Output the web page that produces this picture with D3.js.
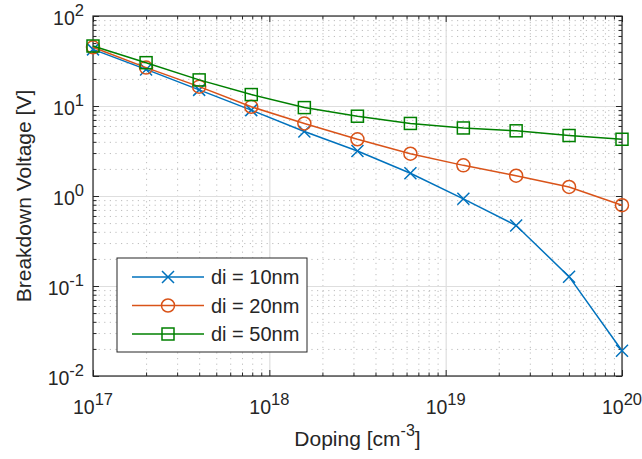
<!DOCTYPE html>
<html>
<head>
<meta charset="utf-8">
<script src="https://cdn.jsdelivr.net/npm/d3@7"></script>
<style>
    body { margin: 0; background: #fff; }
    svg text { font-family: "Liberation Sans", Arial, sans-serif; fill: #262626; }
</style>
</head>
<body>
<svg width="642" height="459"></svg>
<script>
// values
var doping = [1e17, 2e17, 4e17, 7.9e17, 1.58e18, 3.16e18, 6.31e18, 1.26e19, 2.51e19, 5.01e19, 1e20];
var vb10 = [42.6, 25.5, 15.1, 9.0, 5.2, 3.16, 1.79, 0.93, 0.47, 0.127, 0.0191];
var vb20 = [44.9, 26.7, 16.4, 9.8, 6.4, 4.27, 2.95, 2.19, 1.68, 1.26, 0.79];
var vb50 = [46.4, 30.3, 19.5, 13.4, 9.6, 7.7, 6.4, 5.7, 5.3, 4.7, 4.27];
var seriesNames = ["di = 10nm", "di = 20nm", "di = 50nm"];
var xTickExps = [17, 18, 19, 20];
var yTickExps = [-2, -1, 0, 1, 2];

function drawChart() {
    var colors = ["#0072bd", "#d95319", "#008000"];
    var markers = ["x", "o", "s"];

    var pl = 93, pr = 622, pt = 16, pb = 376;
    var svg = d3.select("svg");

    var x = d3.scaleLog().domain([1e17, 1e20]).range([pl, pr]);
    var y = d3.scaleLog().domain([1e-2, 1e2]).range([pb, pt]);

    function minorTicks(exps) {
        var out = [];
        for (var i = 0; i < exps.length - 1; i++) {
            for (var m = 2; m <= 9; m++) out.push(m * Math.pow(10, exps[i]));
        }
        return out;
    }
    var xMajor = xTickExps.map(function (e) { return Math.pow(10, e); });
    var yMajor = yTickExps.map(function (e) { return Math.pow(10, e); });
    var xMinor = minorTicks(xTickExps);
    var yMinor = minorTicks(yTickExps);

    // plain tick lines from a d3 axis, no domain path or text
    function axisLines(axis, tr, stroke, width, dash) {
        var g = svg.append("g").attr("transform", tr).call(axis.tickFormat(""));
        g.select(".domain").remove();
        g.selectAll("text").remove();
        g.selectAll("line")
            .attr("stroke", stroke)
            .attr("stroke-width", width)
            .attr("stroke-dasharray", dash || null);
    }

    // grid
    axisLines(d3.axisBottom(x).tickValues(xMinor).tickSize(-(pb - pt)), "translate(0," + pb + ")", "#bdbdbd", 1, "1.2,4.4");
    axisLines(d3.axisLeft(y).tickValues(yMinor).tickSize(-(pr - pl)), "translate(" + pl + ",0)", "#bdbdbd", 1, "1.2,4.4");
    axisLines(d3.axisBottom(x).tickValues(xMajor).tickSize(-(pb - pt)), "translate(0," + pb + ")", "#dedede", 1.2);
    axisLines(d3.axisLeft(y).tickValues(yMajor).tickSize(-(pr - pl)), "translate(" + pl + ",0)", "#dedede", 1.2);

    // inward ticks on all four sides
    [[d3.axisBottom, pb], [d3.axisTop, pt]].forEach(function (s) {
        axisLines(s[0](x).tickValues(xMajor).tickSize(-6), "translate(0," + s[1] + ")", "#262626", 1);
        axisLines(s[0](x).tickValues(xMinor).tickSize(-3.5), "translate(0," + s[1] + ")", "#262626", 1);
    });
    [[d3.axisLeft, pl], [d3.axisRight, pr]].forEach(function (s) {
        axisLines(s[0](y).tickValues(yMajor).tickSize(-6), "translate(" + s[1] + ",0)", "#262626", 1);
        axisLines(s[0](y).tickValues(yMinor).tickSize(-3.5), "translate(" + s[1] + ",0)", "#262626", 1);
    });
    svg.append("rect")
        .attr("x", pl).attr("y", pt)
        .attr("width", pr - pl).attr("height", pb - pt)
        .attr("fill", "none").attr("stroke", "#262626").attr("stroke-width", 1.2);

    // tick labels with superscript exponents
    function powerLabel(sel, exp) {
        sel.append("tspan").text("10");
        sel.append("tspan").attr("font-size", 16.5).attr("dy", -8.5).text(exp);
    }
    xTickExps.forEach(function (e) {
        var t = svg.append("text")
            .attr("x", x(Math.pow(10, e)))
            .attr("y", pb + 37.5)
            .attr("text-anchor", "middle")
            .attr("font-size", 19.5);
        powerLabel(t, e);
    });
    yTickExps.forEach(function (e) {
        var t = svg.append("text")
            .attr("x", pl - 9)
            .attr("y", y(Math.pow(10, e)) + 8.5)
            .attr("text-anchor", "end")
            .attr("font-size", 19.5);
        powerLabel(t, e);
    });

    // axis labels
    var xl = svg.append("text")
        .attr("x", (pl + pr) / 2)
        .attr("y", 446)
        .attr("text-anchor", "middle")
        .attr("font-size", 21);
    xl.append("tspan").text("Doping [cm");
    xl.append("tspan").attr("font-size", 16).attr("dy", -10).text("-3");
    xl.append("tspan").attr("dy", 10).text("]");

    svg.append("text")
        .attr("transform", "translate(31," + (pt + pb) / 2 + ") rotate(-90)")
        .attr("text-anchor", "middle")
        .attr("font-size", 21)
        .text("Breakdown Voltage [V]");

    function drawMarker(g, kind, color) {
        if (kind == "x") {
            g.append("path").attr("d", "M-6,-6L6,6M-6,6L6,-6")
                .attr("stroke", color).attr("stroke-width", 1.5).attr("fill", "none");
        } else if (kind == "o") {
            g.append("circle").attr("r", 6.5)
                .attr("stroke", color).attr("stroke-width", 1.5).attr("fill", "none");
        } else {
            g.append("rect").attr("x", -6).attr("y", -6).attr("width", 12).attr("height", 12)
                .attr("stroke", color).attr("stroke-width", 1.5).attr("fill", "none");
        }
    }

    // series
    var series = [vb10, vb20, vb50];
    var line = d3.line()
        .x(function (d) { return x(d[0]); })
        .y(function (d) { return y(d[1]); });

    series.forEach(function (vals, i) {
        var pts = d3.zip(doping, vals);
        svg.append("path")
            .datum(pts)
            .attr("d", line)
            .attr("fill", "none")
            .attr("stroke", colors[i])
            .attr("stroke-width", 1.5);
        svg.selectAll("g.m" + i)
            .data(pts)
            .enter().append("g")
            .attr("class", "m" + i)
            .attr("transform", function (d) { return "translate(" + x(d[0]) + "," + y(d[1]) + ")"; })
            .each(function () { drawMarker(d3.select(this), markers[i], colors[i]); });
    });

    // legend
    var legend = svg.append("g").attr("transform", "translate(117,258)");
    legend.append("rect")
        .attr("width", 190).attr("height", 94)
        .attr("fill", "#fff").attr("stroke", "#262626").attr("stroke-width", 1);
    seriesNames.forEach(function (name, i) {
        var row = legend.append("g").attr("transform", "translate(0," + (19 + i * 28.5) + ")");
        row.append("line")
            .attr("x1", 15).attr("x2", 87)
            .attr("stroke", colors[i]).attr("stroke-width", 1.5);
        drawMarker(row.append("g").attr("transform", "translate(51,0)"), markers[i], colors[i]);
        row.append("text")
            .attr("x", 94).attr("y", 7)
            .attr("font-size", 20)
            .text(name);
    });
}

drawChart();
</script>
</body>
</html>
